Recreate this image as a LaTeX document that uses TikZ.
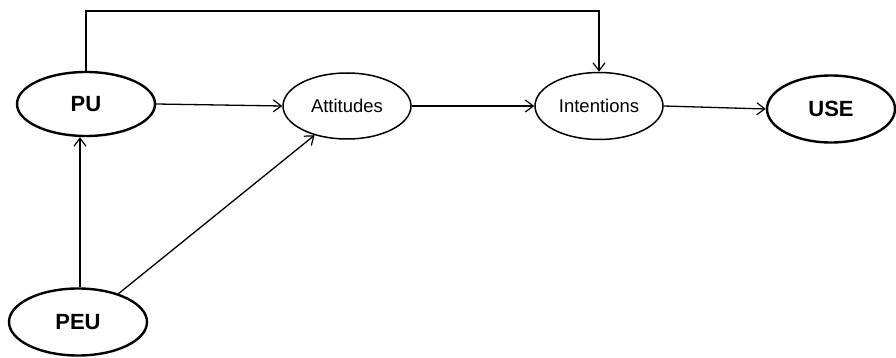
\documentclass[tikz,border=0pt]{standalone}
\usepackage{fontspec}
\setmainfont{Liberation Sans}
\usetikzlibrary{arrows.meta,shapes.geometric}
\begin{document}
\begin{tikzpicture}[x=1pt,y=-1pt,
  bigell/.style={draw,ellipse,line width=2.4pt,inner sep=0pt,font=\fontsize{22}{26}\selectfont\bfseries},
  smallell/.style={draw,ellipse,line width=1.5pt,inner sep=0pt,font=\fontsize{18.5}{22}\selectfont},
  conn/.style={line width=1.3pt,-{Straight Barb[length=8pt,width=12pt,line width=1.2pt]}}]
\useasboundingbox (0,0) rectangle (896,358);
\node[bigell,minimum width=138pt,minimum height=64pt] (pu) at (86,104) {PU};
\node[smallell,minimum width=128pt,minimum height=66pt] (att) at (347,106) {Attitudes};
\node[smallell,minimum width=128pt,minimum height=67pt] (int) at (599,106) {Intentions};
\node[bigell,minimum width=128pt,minimum height=67pt] (use) at (831,109) {USE};
\node[bigell,minimum width=138pt,minimum height=67pt] (peu) at (78,322) {PEU};
\coordinate (c1) at (86,11);
\coordinate (c2) at (599,11);
\coordinate (vx) at (80,0);
\draw[conn] (pu.east) -- (att.west);
\draw[conn] (att.east) -- (int.west);
\draw[conn] (int.east) -- (use.west);
\draw[conn] (vx |- peu.north) -- (vx |- pu.south);
\draw[conn] (peu.35) -- (att.222);
\draw[conn] (pu.north) -- (c1) -- (c2) -- (int.north);
\end{tikzpicture}
\end{document}
